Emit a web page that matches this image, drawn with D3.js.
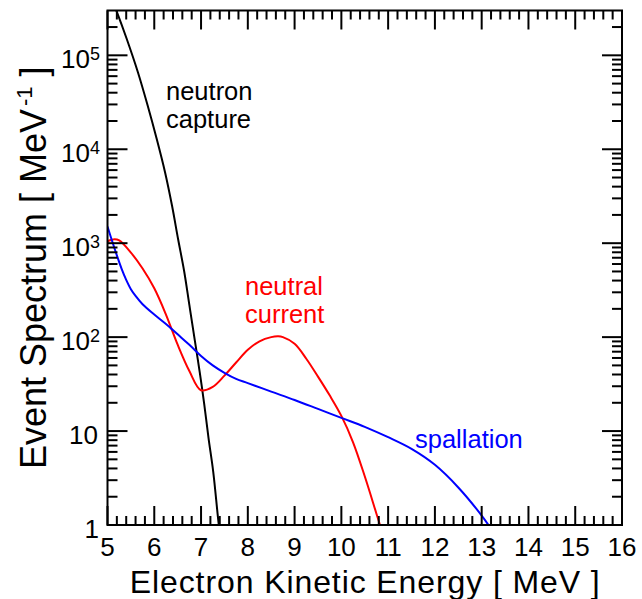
<!DOCTYPE html>
<html><head><meta charset="utf-8">
<script src="https://cdn.jsdelivr.net/npm/d3@7"></script>
<style>
body{margin:0;background:#fff}
text{font-family:"Liberation Sans",Arial,Helvetica,sans-serif;fill:#000}
</style>
</head><body>
<svg id="chart" width="642" height="599"></svg>
<script>
// ---- data ----
const captureE = [5.0, 5.2, 5.41, 5.65, 5.86, 6.05, 6.23, 6.38, 6.51, 6.64, 6.75, 6.86, 6.97, 7.07, 7.16, 7.26, 7.38, 7.45];
const captureV = [5.2e5, 2.9e5, 1.5e5, 6.6e4, 2.9e4, 1.3e4, 5.7e3, 2.5e3, 1.1e3, 500, 220, 97, 43, 19, 8.4, 3.7, 1.0, 0.55];

const neutralE = [5.0, 5.15, 5.25, 5.5, 5.75, 6.0, 6.25, 6.5, 6.75, 7.0, 7.25, 7.5, 7.75, 8.0, 8.25, 8.5, 8.65, 8.75, 9.0, 9.25, 9.5, 9.75, 10.0, 10.25, 10.5, 10.75, 10.9];
const neutralV = [1050, 1100, 1070, 795, 537, 331, 174, 83, 43.6, 27.2, 29.5, 38.9, 53.7, 73.3, 90.2, 100, 102, 100, 85, 58.9, 38, 24, 14.5, 7.6, 3.3, 1.32, 0.76];

const spallE = [5.0, 5.1, 5.2, 5.3, 5.4, 5.5, 5.6, 5.75, 6.0, 6.25, 6.5, 6.75, 7.0, 7.25, 7.5, 7.75, 8.0, 8.5, 9.0, 9.5, 10.0, 10.5, 11.0, 11.5, 12.0, 12.5, 13.0, 13.2];
const spallV = [1500, 1050, 741, 537, 407, 324, 275, 224, 174, 138, 107, 83, 63, 50, 41.7, 35.9, 32.4, 26.3, 21.4, 17.2, 13.8, 11.1, 8.6, 6.46, 4.37, 2.51, 1.26, 0.91];

const xTickValues = [5, 6, 7, 8, 9, 10, 11, 12, 13, 14, 15, 16];
const yTickExponents = [0, 1, 2, 3, 4, 5];

const seriesNames = ["neutron capture", "neutral current", "spallation"];
const seriesColors = ["#000000", "#ff0000", "#0000ff"];

// ---- layout ----
const L = 107.5, R = 622, T = 10.5, B = 525;
const svg = d3.select("#chart");
const x = d3.scaleLinear().domain([5, 16]).range([L, R]);
const y = d3.scaleLog().domain([1, 3e5]).range([B, T]);

svg.append("defs").append("clipPath").attr("id", "clip")
  .append("rect").attr("x", L).attr("y", T).attr("width", R - L).attr("height", B - T);

// curves
const line = d3.line().x(d => x(d[0])).y(d => y(d[1])).curve(d3.curveCatmullRom.alpha(0.5));
const series = [
  d3.zip(captureE, captureV),
  d3.zip(neutralE, neutralV),
  d3.zip(spallE, spallV)
];
const g = svg.append("g").attr("clip-path", "url(#clip)");
series.forEach((s, i) => {
  g.append("path").datum(s).attr("d", line)
    .attr("fill", "none").attr("stroke", seriesColors[i]).attr("stroke-width", 2);
});

// ticks
const tk = svg.append("g").attr("stroke", "#000").attr("stroke-width", 2);
const xMinor = d3.range(5, 16.001, 0.2).filter(v => Math.abs(v - Math.round(v)) > 1e-6);
xTickValues.forEach(v => {
  tk.append("line").attr("x1", x(v)).attr("x2", x(v)).attr("y1", B).attr("y2", B - 19);
  tk.append("line").attr("x1", x(v)).attr("x2", x(v)).attr("y1", T).attr("y2", T + 19);
});
xMinor.forEach(v => {
  tk.append("line").attr("x1", x(v)).attr("x2", x(v)).attr("y1", B).attr("y2", B - 9);
  tk.append("line").attr("x1", x(v)).attr("x2", x(v)).attr("y1", T).attr("y2", T + 9);
});
const yMinor = [];
yTickExponents.forEach(e => { for (let k = 2; k <= 9; k++) { const v = k * Math.pow(10, e); if (v < 2.9e5) yMinor.push(v); } });
yTickExponents.forEach(e => {
  const v = Math.pow(10, e);
  tk.append("line").attr("y1", y(v)).attr("y2", y(v)).attr("x1", L).attr("x2", L + 20);
  tk.append("line").attr("y1", y(v)).attr("y2", y(v)).attr("x1", R).attr("x2", R - 20);
});
yMinor.forEach(v => {
  tk.append("line").attr("y1", y(v)).attr("y2", y(v)).attr("x1", L).attr("x2", L + 10);
  tk.append("line").attr("y1", y(v)).attr("y2", y(v)).attr("x1", R).attr("x2", R - 10);
});

// frame
svg.append("rect").attr("x", L).attr("y", T).attr("width", R - L).attr("height", B - T)
  .attr("fill", "none").attr("stroke", "#000").attr("stroke-width", 2);

// x tick labels
xTickValues.forEach(v => {
  svg.append("text").attr("x", x(v)).attr("y", 556).attr("text-anchor", "middle")
    .attr("font-size", 26).text(v);
});
// y tick labels
yTickExponents.forEach(e => {
  const v = Math.pow(10, e);
  const t = svg.append("text").attr("y", y(v) + 12.5).attr("font-size", 26).attr("text-anchor", "end");
  if (e === 0) { t.attr("x", 99).text("1"); }
  else if (e === 1) { t.attr("x", 98).text("10"); }
  else {
    t.attr("x", 100);
    t.append("tspan").text("10");
    t.append("tspan").attr("font-size", 18).attr("dy", -8).text(e);
  }
});

// axis titles
svg.append("text").attr("x", (L + R) / 2).attr("y", 593).attr("text-anchor", "middle")
  .attr("font-size", 32).attr("textLength", 470).attr("lengthAdjust", "spacing")
  .text("Electron Kinetic Energy [ MeV ]");

const yt = svg.append("text").attr("transform", `translate(46,${(T + B) / 2}) rotate(-90)`)
  .attr("text-anchor", "middle").attr("font-size", 36);
yt.append("tspan").text("Event Spectrum [ MeV");
yt.append("tspan").attr("font-size", 22).attr("dy", -14).attr("dx", 3).text("-1");
yt.append("tspan").attr("dy", 14).text(" ]");

// annotations
const ann = [
  {lines: ["neutron", "capture"], x: 166, y: 100, c: seriesColors[0]},
  {lines: ["neutral", "current"], x: 245, y: 295, c: seriesColors[1]},
  {lines: ["spallation"], x: 415, y: 448, c: seriesColors[2]}
];
ann.forEach(a => {
  a.lines.forEach((s, i) => {
    svg.append("text").attr("x", a.x).attr("y", a.y + i * 28).attr("font-size", 25.5)
      .style("fill", a.c).text(s);
  });
});
</script>
</body></html>
